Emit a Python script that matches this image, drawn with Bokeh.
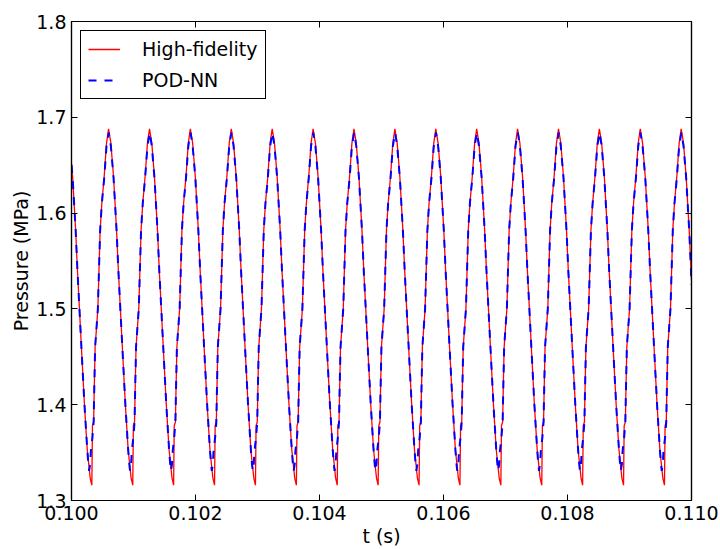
from bokeh.plotting import figure
from bokeh.models import (Range1d, FixedTicker, PrintfTickFormatter, LinearAxis, Legend,
                          LegendItem, CustomJSTickFormatter)
from bokeh.embed import file_html
from bokeh.resources import INLINE

# ---------------- data ----------------
# High-fidelity pressure trace: time (s)
hf_t = [
    0.100000, 0.100018, 0.100067, 0.100096, 0.100128, 0.100168, 0.100209, 0.100254, 0.100281, 0.100302,
    0.100328, 0.100338, 0.100357, 0.100365, 0.100381, 0.100425, 0.100462, 0.100489, 0.100527, 0.100565, 0.100598, 0.100635, 0.100678, 0.100727, 0.100756, 0.100788, 0.100828, 0.100869, 0.100914, 0.100941, 0.100962,
    0.100988, 0.100998, 0.101017, 0.101025, 0.101041, 0.101085, 0.101122, 0.101149, 0.101187, 0.101225, 0.101258, 0.101295, 0.101338, 0.101387, 0.101416, 0.101448, 0.101488, 0.101529, 0.101574, 0.101601, 0.101622,
    0.101647, 0.101657, 0.101676, 0.101684, 0.101700, 0.101744, 0.101781, 0.101808, 0.101846, 0.101884, 0.101917, 0.101954, 0.101997, 0.102046, 0.102075, 0.102107, 0.102147, 0.102188, 0.102233, 0.102260, 0.102281,
    0.102307, 0.102317, 0.102336, 0.102344, 0.102360, 0.102404, 0.102441, 0.102468, 0.102506, 0.102544, 0.102577, 0.102614, 0.102657, 0.102706, 0.102735, 0.102767, 0.102807, 0.102848, 0.102893, 0.102920, 0.102941,
    0.102967, 0.102977, 0.102996, 0.103004, 0.103020, 0.103064, 0.103101, 0.103128, 0.103166, 0.103204, 0.103237, 0.103274, 0.103317, 0.103366, 0.103395, 0.103427, 0.103467, 0.103508, 0.103553, 0.103580, 0.103601,
    0.103627, 0.103637, 0.103656, 0.103664, 0.103680, 0.103724, 0.103761, 0.103788, 0.103826, 0.103864, 0.103897, 0.103934, 0.103977, 0.104026, 0.104055, 0.104087, 0.104127, 0.104168, 0.104213, 0.104240, 0.104261,
    0.104286, 0.104296, 0.104315, 0.104323, 0.104339, 0.104383, 0.104420, 0.104447, 0.104485, 0.104523, 0.104556, 0.104593, 0.104636, 0.104685, 0.104714, 0.104746, 0.104786, 0.104827, 0.104872, 0.104899, 0.104920,
    0.104946, 0.104956, 0.104975, 0.104983, 0.104999, 0.105043, 0.105080, 0.105107, 0.105145, 0.105183, 0.105216, 0.105253, 0.105296, 0.105345, 0.105374, 0.105406, 0.105446, 0.105487, 0.105532, 0.105559, 0.105580,
    0.105606, 0.105616, 0.105635, 0.105643, 0.105659, 0.105703, 0.105740, 0.105767, 0.105805, 0.105843, 0.105876, 0.105913, 0.105956, 0.106005, 0.106034, 0.106066, 0.106106, 0.106147, 0.106192, 0.106219, 0.106240,
    0.106265, 0.106275, 0.106294, 0.106302, 0.106318, 0.106362, 0.106399, 0.106426, 0.106464, 0.106502, 0.106535, 0.106572, 0.106615, 0.106664, 0.106693, 0.106725, 0.106765, 0.106806, 0.106851, 0.106878, 0.106899,
    0.106925, 0.106935, 0.106954, 0.106962, 0.106978, 0.107022, 0.107059, 0.107086, 0.107124, 0.107162, 0.107195, 0.107232, 0.107275, 0.107324, 0.107353, 0.107385, 0.107425, 0.107466, 0.107511, 0.107538, 0.107559,
    0.107585, 0.107595, 0.107614, 0.107622, 0.107638, 0.107682, 0.107719, 0.107746, 0.107784, 0.107822, 0.107855, 0.107892, 0.107935, 0.107984, 0.108013, 0.108045, 0.108085, 0.108126, 0.108171, 0.108198, 0.108219,
    0.108244, 0.108254, 0.108273, 0.108281, 0.108297, 0.108341, 0.108378, 0.108405, 0.108443, 0.108481, 0.108514, 0.108551, 0.108594, 0.108643, 0.108672, 0.108704, 0.108744, 0.108785, 0.108830, 0.108857, 0.108878,
    0.108904, 0.108914, 0.108933, 0.108941, 0.108957, 0.109001, 0.109038, 0.109065, 0.109103, 0.109141, 0.109174, 0.109211, 0.109254, 0.109303, 0.109332, 0.109364, 0.109404, 0.109445, 0.109490, 0.109517, 0.109538,
    0.109564, 0.109574, 0.109593, 0.109601, 0.109617, 0.109661, 0.109698, 0.109725, 0.109763, 0.109801, 0.109834, 0.109871, 0.109914, 0.109963, 0.109992, 0.110000,
]
# High-fidelity pressure (MPa)
hf_p = [
    1.652, 1.638, 1.582, 1.540, 1.500, 1.450, 1.400, 1.353, 1.336, 1.323,
    1.316, 1.378, 1.382, 1.410, 1.460, 1.500, 1.582, 1.610, 1.638, 1.673, 1.688, 1.673, 1.638, 1.582, 1.540, 1.500, 1.450, 1.400, 1.353, 1.336, 1.323,
    1.316, 1.378, 1.382, 1.410, 1.460, 1.500, 1.582, 1.610, 1.638, 1.673, 1.688, 1.673, 1.638, 1.582, 1.540, 1.500, 1.450, 1.400, 1.353, 1.336, 1.323,
    1.316, 1.378, 1.382, 1.410, 1.460, 1.500, 1.582, 1.610, 1.638, 1.673, 1.688, 1.673, 1.638, 1.582, 1.540, 1.500, 1.450, 1.400, 1.353, 1.336, 1.323,
    1.316, 1.378, 1.382, 1.410, 1.460, 1.500, 1.582, 1.610, 1.638, 1.673, 1.688, 1.673, 1.638, 1.582, 1.540, 1.500, 1.450, 1.400, 1.353, 1.336, 1.323,
    1.316, 1.378, 1.382, 1.410, 1.460, 1.500, 1.582, 1.610, 1.638, 1.673, 1.688, 1.673, 1.638, 1.582, 1.540, 1.500, 1.450, 1.400, 1.353, 1.336, 1.323,
    1.316, 1.378, 1.382, 1.410, 1.460, 1.500, 1.582, 1.610, 1.638, 1.673, 1.688, 1.673, 1.638, 1.582, 1.540, 1.500, 1.450, 1.400, 1.353, 1.336, 1.323,
    1.316, 1.378, 1.382, 1.410, 1.460, 1.500, 1.582, 1.610, 1.638, 1.673, 1.688, 1.673, 1.638, 1.582, 1.540, 1.500, 1.450, 1.400, 1.353, 1.336, 1.323,
    1.316, 1.378, 1.382, 1.410, 1.460, 1.500, 1.582, 1.610, 1.638, 1.673, 1.688, 1.673, 1.638, 1.582, 1.540, 1.500, 1.450, 1.400, 1.353, 1.336, 1.323,
    1.316, 1.378, 1.382, 1.410, 1.460, 1.500, 1.582, 1.610, 1.638, 1.673, 1.688, 1.673, 1.638, 1.582, 1.540, 1.500, 1.450, 1.400, 1.353, 1.336, 1.323,
    1.316, 1.378, 1.382, 1.410, 1.460, 1.500, 1.582, 1.610, 1.638, 1.673, 1.688, 1.673, 1.638, 1.582, 1.540, 1.500, 1.450, 1.400, 1.353, 1.336, 1.323,
    1.316, 1.378, 1.382, 1.410, 1.460, 1.500, 1.582, 1.610, 1.638, 1.673, 1.688, 1.673, 1.638, 1.582, 1.540, 1.500, 1.450, 1.400, 1.353, 1.336, 1.323,
    1.316, 1.378, 1.382, 1.410, 1.460, 1.500, 1.582, 1.610, 1.638, 1.673, 1.688, 1.673, 1.638, 1.582, 1.540, 1.500, 1.450, 1.400, 1.353, 1.336, 1.323,
    1.316, 1.378, 1.382, 1.410, 1.460, 1.500, 1.582, 1.610, 1.638, 1.673, 1.688, 1.673, 1.638, 1.582, 1.540, 1.500, 1.450, 1.400, 1.353, 1.336, 1.323,
    1.316, 1.378, 1.382, 1.410, 1.460, 1.500, 1.582, 1.610, 1.638, 1.673, 1.688, 1.673, 1.638, 1.582, 1.540, 1.500, 1.450, 1.400, 1.353, 1.336, 1.323,
    1.316, 1.378, 1.382, 1.410, 1.460, 1.500, 1.582, 1.610, 1.638, 1.673, 1.688, 1.673, 1.638, 1.582, 1.540, 1.530,
]

# POD-NN prediction: time (s)
nn_t = [
    0.100000, 0.100018, 0.100067, 0.100096, 0.100128, 0.100168, 0.100209, 0.100254, 0.100272, 0.100284, 0.100301, 0.100313,
    0.100338, 0.100357, 0.100365, 0.100381, 0.100425, 0.100462, 0.100489, 0.100527, 0.100565, 0.100601, 0.100635, 0.100678, 0.100727, 0.100756, 0.100788, 0.100828, 0.100869, 0.100914, 0.100932, 0.100944, 0.100961, 0.100973,
    0.100998, 0.101017, 0.101025, 0.101041, 0.101085, 0.101122, 0.101149, 0.101187, 0.101225, 0.101261, 0.101295, 0.101338, 0.101387, 0.101416, 0.101448, 0.101488, 0.101529, 0.101574, 0.101592, 0.101604, 0.101621, 0.101633,
    0.101657, 0.101676, 0.101684, 0.101700, 0.101744, 0.101781, 0.101808, 0.101846, 0.101884, 0.101920, 0.101954, 0.101997, 0.102046, 0.102075, 0.102107, 0.102147, 0.102188, 0.102233, 0.102251, 0.102263, 0.102280, 0.102292,
    0.102317, 0.102336, 0.102344, 0.102360, 0.102404, 0.102441, 0.102468, 0.102506, 0.102544, 0.102580, 0.102614, 0.102657, 0.102706, 0.102735, 0.102767, 0.102807, 0.102848, 0.102893, 0.102911, 0.102923, 0.102940, 0.102952,
    0.102977, 0.102996, 0.103004, 0.103020, 0.103064, 0.103101, 0.103128, 0.103166, 0.103204, 0.103240, 0.103274, 0.103317, 0.103366, 0.103395, 0.103427, 0.103467, 0.103508, 0.103553, 0.103571, 0.103583, 0.103600, 0.103612,
    0.103637, 0.103656, 0.103664, 0.103680, 0.103724, 0.103761, 0.103788, 0.103826, 0.103864, 0.103900, 0.103934, 0.103977, 0.104026, 0.104055, 0.104087, 0.104127, 0.104168, 0.104213, 0.104231, 0.104243, 0.104260, 0.104272,
    0.104296, 0.104315, 0.104323, 0.104339, 0.104383, 0.104420, 0.104447, 0.104485, 0.104523, 0.104559, 0.104593, 0.104636, 0.104685, 0.104714, 0.104746, 0.104786, 0.104827, 0.104872, 0.104890, 0.104902, 0.104919, 0.104931,
    0.104956, 0.104975, 0.104983, 0.104999, 0.105043, 0.105080, 0.105107, 0.105145, 0.105183, 0.105219, 0.105253, 0.105296, 0.105345, 0.105374, 0.105406, 0.105446, 0.105487, 0.105532, 0.105550, 0.105562, 0.105579, 0.105591,
    0.105616, 0.105635, 0.105643, 0.105659, 0.105703, 0.105740, 0.105767, 0.105805, 0.105843, 0.105879, 0.105913, 0.105956, 0.106005, 0.106034, 0.106066, 0.106106, 0.106147, 0.106192, 0.106210, 0.106222, 0.106239, 0.106251,
    0.106275, 0.106294, 0.106302, 0.106318, 0.106362, 0.106399, 0.106426, 0.106464, 0.106502, 0.106538, 0.106572, 0.106615, 0.106664, 0.106693, 0.106725, 0.106765, 0.106806, 0.106851, 0.106869, 0.106881, 0.106898, 0.106910,
    0.106935, 0.106954, 0.106962, 0.106978, 0.107022, 0.107059, 0.107086, 0.107124, 0.107162, 0.107198, 0.107232, 0.107275, 0.107324, 0.107353, 0.107385, 0.107425, 0.107466, 0.107511, 0.107529, 0.107541, 0.107558, 0.107570,
    0.107595, 0.107614, 0.107622, 0.107638, 0.107682, 0.107719, 0.107746, 0.107784, 0.107822, 0.107858, 0.107892, 0.107935, 0.107984, 0.108013, 0.108045, 0.108085, 0.108126, 0.108171, 0.108189, 0.108201, 0.108218, 0.108230,
    0.108254, 0.108273, 0.108281, 0.108297, 0.108341, 0.108378, 0.108405, 0.108443, 0.108481, 0.108517, 0.108551, 0.108594, 0.108643, 0.108672, 0.108704, 0.108744, 0.108785, 0.108830, 0.108848, 0.108860, 0.108877, 0.108889,
    0.108914, 0.108933, 0.108941, 0.108957, 0.109001, 0.109038, 0.109065, 0.109103, 0.109141, 0.109177, 0.109211, 0.109254, 0.109303, 0.109332, 0.109364, 0.109404, 0.109445, 0.109490, 0.109508, 0.109520, 0.109537, 0.109549,
    0.109574, 0.109593, 0.109601, 0.109617, 0.109661, 0.109698, 0.109725, 0.109763, 0.109801, 0.109837, 0.109871, 0.109914, 0.109963, 0.109992, 0.110000,
]
# POD-NN pressure (MPa)
nn_p = [
    1.650, 1.637, 1.582, 1.540, 1.500, 1.450, 1.400, 1.353, 1.338, 1.331, 1.338, 1.352,
    1.366, 1.382, 1.410, 1.460, 1.500, 1.582, 1.610, 1.636, 1.670, 1.684, 1.670, 1.637, 1.582, 1.540, 1.500, 1.450, 1.400, 1.353, 1.338, 1.331, 1.338, 1.352,
    1.366, 1.382, 1.410, 1.460, 1.500, 1.582, 1.610, 1.636, 1.670, 1.684, 1.670, 1.637, 1.582, 1.540, 1.500, 1.450, 1.400, 1.353, 1.338, 1.331, 1.338, 1.352,
    1.366, 1.382, 1.410, 1.460, 1.500, 1.582, 1.610, 1.636, 1.670, 1.684, 1.670, 1.637, 1.582, 1.540, 1.500, 1.450, 1.400, 1.353, 1.338, 1.331, 1.338, 1.352,
    1.366, 1.382, 1.410, 1.460, 1.500, 1.582, 1.610, 1.636, 1.670, 1.684, 1.670, 1.637, 1.582, 1.540, 1.500, 1.450, 1.400, 1.353, 1.338, 1.331, 1.338, 1.352,
    1.366, 1.382, 1.410, 1.460, 1.500, 1.582, 1.610, 1.636, 1.670, 1.684, 1.670, 1.637, 1.582, 1.540, 1.500, 1.450, 1.400, 1.353, 1.338, 1.331, 1.338, 1.352,
    1.366, 1.382, 1.410, 1.460, 1.500, 1.582, 1.610, 1.636, 1.670, 1.684, 1.670, 1.637, 1.582, 1.540, 1.500, 1.450, 1.400, 1.353, 1.338, 1.331, 1.338, 1.352,
    1.366, 1.382, 1.410, 1.460, 1.500, 1.582, 1.610, 1.636, 1.670, 1.684, 1.670, 1.637, 1.582, 1.540, 1.500, 1.450, 1.400, 1.353, 1.338, 1.331, 1.338, 1.352,
    1.366, 1.382, 1.410, 1.460, 1.500, 1.582, 1.610, 1.636, 1.670, 1.684, 1.670, 1.637, 1.582, 1.540, 1.500, 1.450, 1.400, 1.353, 1.338, 1.331, 1.338, 1.352,
    1.366, 1.382, 1.410, 1.460, 1.500, 1.582, 1.610, 1.636, 1.670, 1.684, 1.670, 1.637, 1.582, 1.540, 1.500, 1.450, 1.400, 1.353, 1.338, 1.331, 1.338, 1.352,
    1.366, 1.382, 1.410, 1.460, 1.500, 1.582, 1.610, 1.636, 1.670, 1.684, 1.670, 1.637, 1.582, 1.540, 1.500, 1.450, 1.400, 1.353, 1.338, 1.331, 1.338, 1.352,
    1.366, 1.382, 1.410, 1.460, 1.500, 1.582, 1.610, 1.636, 1.670, 1.684, 1.670, 1.637, 1.582, 1.540, 1.500, 1.450, 1.400, 1.353, 1.338, 1.331, 1.338, 1.352,
    1.366, 1.382, 1.410, 1.460, 1.500, 1.582, 1.610, 1.636, 1.670, 1.684, 1.670, 1.637, 1.582, 1.540, 1.500, 1.450, 1.400, 1.353, 1.338, 1.331, 1.338, 1.352,
    1.366, 1.382, 1.410, 1.460, 1.500, 1.582, 1.610, 1.636, 1.670, 1.684, 1.670, 1.637, 1.582, 1.540, 1.500, 1.450, 1.400, 1.353, 1.338, 1.331, 1.338, 1.352,
    1.366, 1.382, 1.410, 1.460, 1.500, 1.582, 1.610, 1.636, 1.670, 1.684, 1.670, 1.637, 1.582, 1.540, 1.500, 1.450, 1.400, 1.353, 1.338, 1.331, 1.338, 1.352,
    1.366, 1.382, 1.410, 1.460, 1.500, 1.582, 1.610, 1.636, 1.670, 1.684, 1.670, 1.637, 1.582, 1.540, 1.525,
]

x_ticks = [0.100, 0.102, 0.104, 0.106, 0.108, 0.110]
y_ticks = [1.3, 1.4, 1.5, 1.6, 1.7, 1.8]
series_labels = ["High-fidelity", "POD-NN"]
x_label = "t (s)"
y_label = "Pressure (MPa)"

# ---------------- figure ----------------
FONT = "DejaVu Sans"
FS = "19px"

p = figure(width=720, height=549, output_backend="svg", toolbar_location=None,
           x_range=Range1d(0.100, 0.110), y_range=Range1d(1.3, 1.8),
           min_border_left=71, min_border_right=29, min_border_top=21, min_border_bottom=47)
p.background_fill_color = "white"
p.border_fill_color = "white"
p.xgrid.visible = False
p.ygrid.visible = False
p.outline_line_color = "black"
p.outline_line_width = 1.2
p.outline_line_alpha = 1.0

r_hf = p.line(hf_t, hf_p, line_color="#ff0000", line_width=1.3)
r_nn = p.line(nn_t, nn_p, line_color="#0000ff", line_width=2.0, line_dash="8 8")


def style_axis(ax, ticks, fmt, show_labels):
    ax.ticker = FixedTicker(ticks=ticks)
    if show_labels:
        ax.formatter = PrintfTickFormatter(format=fmt)
        ax.major_label_text_font_size = FS
        ax.major_label_standoff = 5
    else:
        # mirrored axis: tick marks only, no numbers
        ax.formatter = CustomJSTickFormatter(code="return '';")
        ax.major_label_standoff = 0
    ax.major_tick_in = 6
    ax.major_tick_out = 0
    ax.minor_tick_in = 0
    ax.minor_tick_out = 0
    ax.major_tick_line_color = "black"
    ax.major_tick_line_width = 1
    ax.axis_line_color = "black"
    ax.axis_line_width = 1.2
    ax.major_label_text_font = FONT
    ax.major_label_text_color = "black"
    ax.axis_label_text_font = FONT
    ax.axis_label_text_font_size = FS
    ax.axis_label_text_font_style = "normal"
    ax.axis_label_text_color = "black"


xa = p.xaxis[0]
ya = p.yaxis[0]
style_axis(xa, x_ticks, "%.3f", True)
style_axis(ya, y_ticks, "%.1f", True)
xa.axis_label = x_label
ya.axis_label = y_label
xa.axis_label_standoff = 2
ya.axis_label_standoff = 1

top = LinearAxis()
style_axis(top, x_ticks, "%.3f", False)
p.add_layout(top, "above")
right = LinearAxis()
style_axis(right, y_ticks, "%.1f", False)
p.add_layout(right, "right")

legend = Legend(items=[LegendItem(label=series_labels[0], renderers=[r_hf]),
                       LegendItem(label=series_labels[1], renderers=[r_nn])],
                location="top_left")
legend.margin = 9
legend.padding = 7
legend.spacing = 9
legend.glyph_width = 32
legend.glyph_height = 20
legend.label_height = 20
legend.label_standoff = 22
legend.label_text_font = FONT
legend.label_text_font_size = FS
legend.label_text_color = "black"
legend.border_line_color = "black"
legend.border_line_width = 1
legend.border_line_alpha = 1.0
legend.background_fill_color = "white"
legend.background_fill_alpha = 1.0
p.add_layout(legend)

open("out.html", "w").write(file_html(p, INLINE))
